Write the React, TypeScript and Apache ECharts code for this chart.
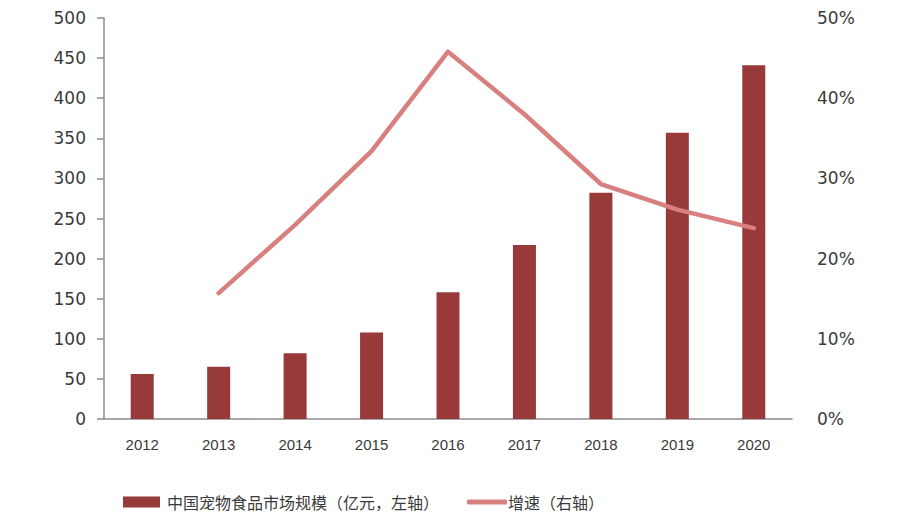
import React, { useEffect, useRef } from "react";
import * as echarts from "echarts";

const years = ["2012", "2013", "2014", "2015", "2016", "2017", "2018", "2019", "2020"];
const marketSize = [56, 65, 82, 108, 158, 217, 282, 357, 441];
const growthRate = [null, 15.7, 24.2, 33.4, 45.8, 38.0, 29.3, 26.1, 23.8];
const barName = "中国宠物食品市场规模（亿元，左轴）";
const lineName = "增速（右轴）";

export default function App() {
  const ref = useRef<HTMLDivElement>(null);
  useEffect(() => {
    if (!ref.current) return;
    const chart = echarts.init(ref.current, null, { renderer: "svg" });
    const axisColor = "#8c8c8c";
    const textColor = "#3a3a3a";
    chart.setOption({
      animation: false,
      grid: { left: 104, right: 108, top: 18, bottom: 103 },
      legend: [
        {
          data: [barName],
          left: 118,
          top: 489,
          itemWidth: 37,
          itemHeight: 11,
          itemGap: 0,
          icon: "rect",
          textStyle: { fontSize: 16, color: textColor, fontFamily: "Noto Sans CJK SC", padding: [0, 0, 0, 2] },
        },
        {
          data: [{ name: lineName, icon: "roundRect" }],
          left: 462,
          top: 489,
          itemWidth: 40,
          itemHeight: 5,
          textStyle: { fontSize: 16, color: textColor, fontFamily: "Noto Sans CJK SC", padding: [0, 0, 0, -4] },
        },
      ],
      xAxis: {
        type: "category",
        data: years,
        boundaryGap: true,
        axisLine: { lineStyle: { color: axisColor, width: 1.5 } },
        axisTick: { alignWithLabel: true, length: 5, lineStyle: { color: axisColor, width: 1.5 } },
        axisLabel: { fontSize: 15, color: textColor, margin: 18, fontFamily: "Liberation Sans" },
      },
      yAxis: [
        {
          type: "value",
          min: 0,
          max: 500,
          interval: 50,
          axisLine: { show: true, lineStyle: { color: axisColor, width: 1.5 } },
          axisTick: { show: true, length: 7, lineStyle: { color: axisColor, width: 1.5 } },
          splitLine: { show: false },
          axisLabel: { fontSize: 17, color: textColor, margin: 18, fontFamily: "DejaVu Sans" },
        },
        {
          type: "value",
          min: 0,
          max: 50,
          interval: 10,
          position: "right",
          axisLine: { show: false },
          axisTick: { show: false },
          splitLine: { show: false },
          axisLabel: { fontSize: 17, color: textColor, margin: 25, fontFamily: "DejaVu Sans", formatter: "{value}%" },
        },
      ],
      series: [
        {
          name: barName,
          type: "bar",
          data: marketSize,
          barWidth: 23,
          itemStyle: { color: "#983a3a" },
        },
        {
          name: lineName,
          type: "line",
          yAxisIndex: 1,
          data: growthRate,
          symbol: "none",
          showSymbol: false,
          lineStyle: { color: "#d88080", width: 4.5, cap: "round", join: "round" },
          itemStyle: { color: "#d88080" },
        },
      ],
    });
    return () => chart.dispose();
  }, []);
  return <div ref={ref} style={{ width: 900, height: 522, position: "absolute", left: 0, top: 0 }} />;
}
